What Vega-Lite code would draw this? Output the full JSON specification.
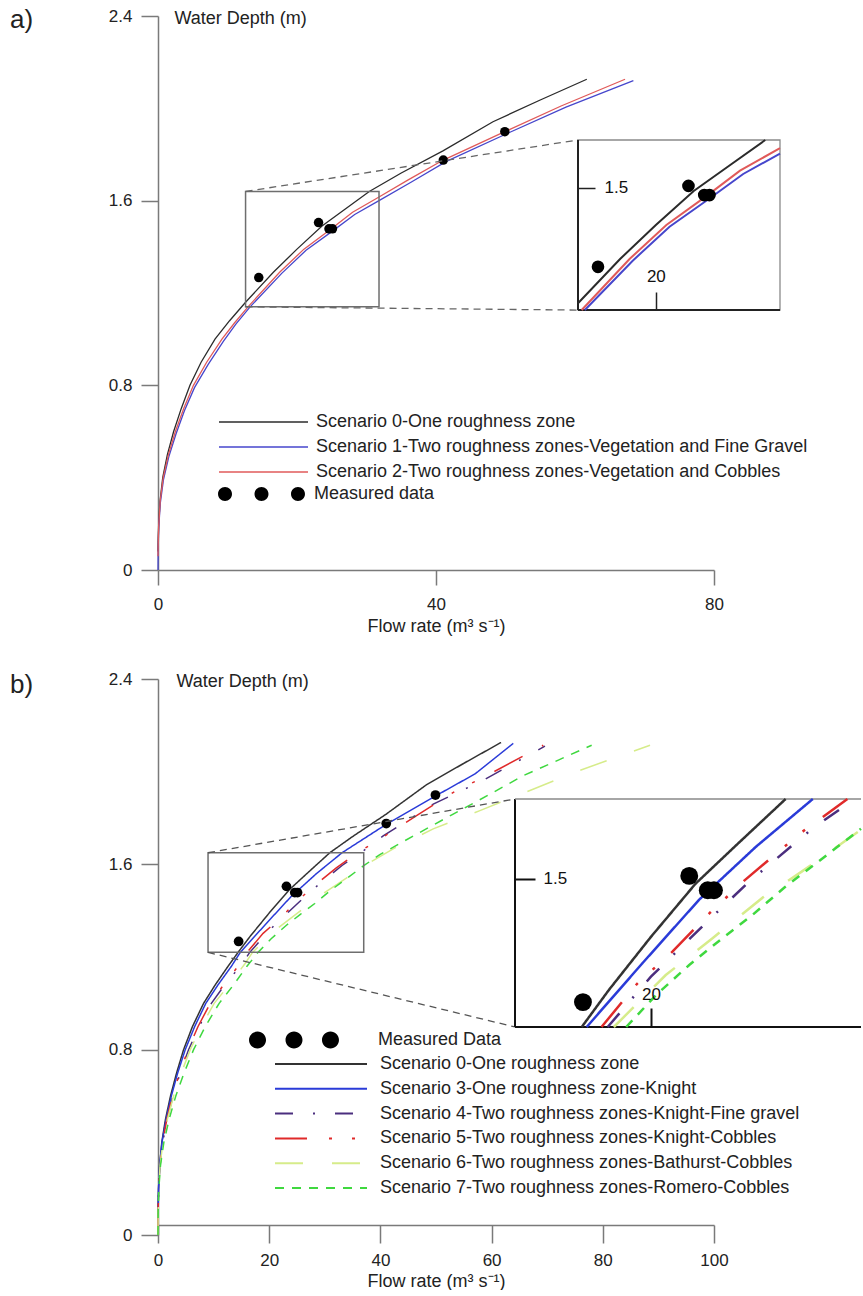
{
 "$schema": "https://vega.github.io/schema/vega-lite/v6.json",
 "padding": {"left": 10, "top": 7, "right": 0, "bottom": 0},
 "background": "white",
 "config": {
  "view": {"stroke": null},
  "font": "Liberation Sans",
  "axis": {"grid": false, "domainColor": "#7a7a7a", "domainWidth": 1.5, "tickColor": "#7a7a7a", "tickWidth": 1.5, "labelColor": "#222222", "labelFont": "Liberation Sans", "labelFontSize": 17, "titleFont": "Liberation Sans", "titleFontSize": 18, "titleFontWeight": "normal", "titleColor": "#222222", "labelFlush": false},
  "legend": {"labelFont": "Liberation Sans", "labelFontSize": 18, "labelColor": "#222222", "labelLimit": 700, "padding": 0, "offset": 0},
  "title": {"font": "Liberation Sans", "fontWeight": "normal", "color": "#222222"}
 },
 "bounds": "flush",
 "spacing": 109,
 "resolve": {"scale": {"color": "independent", "fill": "independent", "strokeDash": "independent"}, "legend": {"color": "independent", "fill": "independent", "strokeDash": "independent"}},
 "datasets": {
  "aLines": [
   {"series": "Scenario 0-One roughness zone", "Q": 0, "h": 0.08},
   {"series": "Scenario 0-One roughness zone", "Q": 0.02, "h": 0.12},
   {"series": "Scenario 0-One roughness zone", "Q": 0.1, "h": 0.2},
   {"series": "Scenario 0-One roughness zone", "Q": 0.3, "h": 0.3},
   {"series": "Scenario 0-One roughness zone", "Q": 0.68, "h": 0.4},
   {"series": "Scenario 0-One roughness zone", "Q": 1.35, "h": 0.5},
   {"series": "Scenario 0-One roughness zone", "Q": 2.25, "h": 0.6},
   {"series": "Scenario 0-One roughness zone", "Q": 3.35, "h": 0.7},
   {"series": "Scenario 0-One roughness zone", "Q": 4.6, "h": 0.8},
   {"series": "Scenario 0-One roughness zone", "Q": 6.2, "h": 0.9},
   {"series": "Scenario 0-One roughness zone", "Q": 8.2, "h": 1.0},
   {"series": "Scenario 0-One roughness zone", "Q": 10.3, "h": 1.08},
   {"series": "Scenario 0-One roughness zone", "Q": 12.6, "h": 1.16},
   {"series": "Scenario 0-One roughness zone", "Q": 16.6, "h": 1.29},
   {"series": "Scenario 0-One roughness zone", "Q": 20, "h": 1.39},
   {"series": "Scenario 0-One roughness zone", "Q": 23.6, "h": 1.49},
   {"series": "Scenario 0-One roughness zone", "Q": 27, "h": 1.565},
   {"series": "Scenario 0-One roughness zone", "Q": 30.4, "h": 1.64},
   {"series": "Scenario 0-One roughness zone", "Q": 35, "h": 1.72},
   {"series": "Scenario 0-One roughness zone", "Q": 41, "h": 1.816},
   {"series": "Scenario 0-One roughness zone", "Q": 48.2, "h": 1.942},
   {"series": "Scenario 0-One roughness zone", "Q": 55, "h": 2.036},
   {"series": "Scenario 0-One roughness zone", "Q": 61.7, "h": 2.126},
   {"series": "Scenario 1-Two roughness zones-Vegetation and Fine Gravel", "Q": 0, "h": 0},
   {"series": "Scenario 1-Two roughness zones-Vegetation and Fine Gravel", "Q": 0.02, "h": 0.08},
   {"series": "Scenario 1-Two roughness zones-Vegetation and Fine Gravel", "Q": 0.1, "h": 0.18},
   {"series": "Scenario 1-Two roughness zones-Vegetation and Fine Gravel", "Q": 0.33, "h": 0.29},
   {"series": "Scenario 1-Two roughness zones-Vegetation and Fine Gravel", "Q": 0.78, "h": 0.39},
   {"series": "Scenario 1-Two roughness zones-Vegetation and Fine Gravel", "Q": 1.55, "h": 0.49},
   {"series": "Scenario 1-Two roughness zones-Vegetation and Fine Gravel", "Q": 2.6, "h": 0.59},
   {"series": "Scenario 1-Two roughness zones-Vegetation and Fine Gravel", "Q": 3.8, "h": 0.69},
   {"series": "Scenario 1-Two roughness zones-Vegetation and Fine Gravel", "Q": 5.25, "h": 0.79},
   {"series": "Scenario 1-Two roughness zones-Vegetation and Fine Gravel", "Q": 7.2, "h": 0.89},
   {"series": "Scenario 1-Two roughness zones-Vegetation and Fine Gravel", "Q": 9.4, "h": 0.99},
   {"series": "Scenario 1-Two roughness zones-Vegetation and Fine Gravel", "Q": 11.2, "h": 1.065},
   {"series": "Scenario 1-Two roughness zones-Vegetation and Fine Gravel", "Q": 13.25, "h": 1.14},
   {"series": "Scenario 1-Two roughness zones-Vegetation and Fine Gravel", "Q": 17.8, "h": 1.285},
   {"series": "Scenario 1-Two roughness zones-Vegetation and Fine Gravel", "Q": 21.3, "h": 1.385},
   {"series": "Scenario 1-Two roughness zones-Vegetation and Fine Gravel", "Q": 25.1, "h": 1.468},
   {"series": "Scenario 1-Two roughness zones-Vegetation and Fine Gravel", "Q": 28.3, "h": 1.54},
   {"series": "Scenario 1-Two roughness zones-Vegetation and Fine Gravel", "Q": 31.8, "h": 1.6},
   {"series": "Scenario 1-Two roughness zones-Vegetation and Fine Gravel", "Q": 36.4, "h": 1.68},
   {"series": "Scenario 1-Two roughness zones-Vegetation and Fine Gravel", "Q": 41.5, "h": 1.77},
   {"series": "Scenario 1-Two roughness zones-Vegetation and Fine Gravel", "Q": 50.4, "h": 1.893},
   {"series": "Scenario 1-Two roughness zones-Vegetation and Fine Gravel", "Q": 58.7, "h": 2.005},
   {"series": "Scenario 1-Two roughness zones-Vegetation and Fine Gravel", "Q": 68.4, "h": 2.12},
   {"series": "Scenario 2-Two roughness zones-Vegetation and Cobbles", "Q": 0, "h": 0.06},
   {"series": "Scenario 2-Two roughness zones-Vegetation and Cobbles", "Q": 0.02, "h": 0.1},
   {"series": "Scenario 2-Two roughness zones-Vegetation and Cobbles", "Q": 0.1, "h": 0.19},
   {"series": "Scenario 2-Two roughness zones-Vegetation and Cobbles", "Q": 0.32, "h": 0.3},
   {"series": "Scenario 2-Two roughness zones-Vegetation and Cobbles", "Q": 0.75, "h": 0.4},
   {"series": "Scenario 2-Two roughness zones-Vegetation and Cobbles", "Q": 1.5, "h": 0.5},
   {"series": "Scenario 2-Two roughness zones-Vegetation and Cobbles", "Q": 2.5, "h": 0.6},
   {"series": "Scenario 2-Two roughness zones-Vegetation and Cobbles", "Q": 3.7, "h": 0.7},
   {"series": "Scenario 2-Two roughness zones-Vegetation and Cobbles", "Q": 5.1, "h": 0.8},
   {"series": "Scenario 2-Two roughness zones-Vegetation and Cobbles", "Q": 7.0, "h": 0.9},
   {"series": "Scenario 2-Two roughness zones-Vegetation and Cobbles", "Q": 9.2, "h": 1.0},
   {"series": "Scenario 2-Two roughness zones-Vegetation and Cobbles", "Q": 11.0, "h": 1.07},
   {"series": "Scenario 2-Two roughness zones-Vegetation and Cobbles", "Q": 12.95, "h": 1.14},
   {"series": "Scenario 2-Two roughness zones-Vegetation and Cobbles", "Q": 17.5, "h": 1.29},
   {"series": "Scenario 2-Two roughness zones-Vegetation and Cobbles", "Q": 21, "h": 1.39},
   {"series": "Scenario 2-Two roughness zones-Vegetation and Cobbles", "Q": 24.8, "h": 1.475},
   {"series": "Scenario 2-Two roughness zones-Vegetation and Cobbles", "Q": 28, "h": 1.55},
   {"series": "Scenario 2-Two roughness zones-Vegetation and Cobbles", "Q": 31.8, "h": 1.616},
   {"series": "Scenario 2-Two roughness zones-Vegetation and Cobbles", "Q": 36, "h": 1.69},
   {"series": "Scenario 2-Two roughness zones-Vegetation and Cobbles", "Q": 41.05, "h": 1.776},
   {"series": "Scenario 2-Two roughness zones-Vegetation and Cobbles", "Q": 49.9, "h": 1.899},
   {"series": "Scenario 2-Two roughness zones-Vegetation and Cobbles", "Q": 58, "h": 2.01},
   {"series": "Scenario 2-Two roughness zones-Vegetation and Cobbles", "Q": 67.2, "h": 2.126}
  ],
  "aPoints": [
   {"kind": "Measured data", "Q": 14.5, "h": 1.267},
   {"kind": "Measured data", "Q": 23.1, "h": 1.505},
   {"kind": "Measured data", "Q": 24.6, "h": 1.478},
   {"kind": "Measured data", "Q": 25.1, "h": 1.478},
   {"kind": "Measured data", "Q": 41.05, "h": 1.776},
   {"kind": "Measured data", "Q": 49.9, "h": 1.899}
  ],
  "bPoints": [
   {"kind": "Measured Data", "Q": 14.5, "h": 1.267},
   {"kind": "Measured Data", "Q": 23.1, "h": 1.505},
   {"kind": "Measured Data", "Q": 24.6, "h": 1.478},
   {"kind": "Measured Data", "Q": 25.1, "h": 1.478},
   {"kind": "Measured Data", "Q": 41.05, "h": 1.776},
   {"kind": "Measured Data", "Q": 49.9, "h": 1.899}
  ],
  "bLines": [
   {"series": "Scenario 0-One roughness zone", "Q": 0, "h": 0.06},
   {"series": "Scenario 0-One roughness zone", "Q": 0.02, "h": 0.12},
   {"series": "Scenario 0-One roughness zone", "Q": 0.1, "h": 0.2},
   {"series": "Scenario 0-One roughness zone", "Q": 0.3, "h": 0.3},
   {"series": "Scenario 0-One roughness zone", "Q": 0.68, "h": 0.4},
   {"series": "Scenario 0-One roughness zone", "Q": 1.35, "h": 0.5},
   {"series": "Scenario 0-One roughness zone", "Q": 2.25, "h": 0.6},
   {"series": "Scenario 0-One roughness zone", "Q": 3.35, "h": 0.7},
   {"series": "Scenario 0-One roughness zone", "Q": 4.6, "h": 0.8},
   {"series": "Scenario 0-One roughness zone", "Q": 6.2, "h": 0.9},
   {"series": "Scenario 0-One roughness zone", "Q": 8.2, "h": 1.0},
   {"series": "Scenario 0-One roughness zone", "Q": 10.3, "h": 1.08},
   {"series": "Scenario 0-One roughness zone", "Q": 12.6, "h": 1.16},
   {"series": "Scenario 0-One roughness zone", "Q": 14.4, "h": 1.22},
   {"series": "Scenario 0-One roughness zone", "Q": 16.6, "h": 1.29},
   {"series": "Scenario 0-One roughness zone", "Q": 20, "h": 1.39},
   {"series": "Scenario 0-One roughness zone", "Q": 23.6, "h": 1.49},
   {"series": "Scenario 0-One roughness zone", "Q": 27, "h": 1.565},
   {"series": "Scenario 0-One roughness zone", "Q": 30.9, "h": 1.65},
   {"series": "Scenario 0-One roughness zone", "Q": 35, "h": 1.72},
   {"series": "Scenario 0-One roughness zone", "Q": 41, "h": 1.816},
   {"series": "Scenario 0-One roughness zone", "Q": 48.2, "h": 1.942},
   {"series": "Scenario 0-One roughness zone", "Q": 55, "h": 2.036},
   {"series": "Scenario 0-One roughness zone", "Q": 61.7, "h": 2.126},
   {"series": "Scenario 3-One roughness zone-Knight", "Q": 0, "h": 0},
   {"series": "Scenario 3-One roughness zone-Knight", "Q": 0.02, "h": 0.1},
   {"series": "Scenario 3-One roughness zone-Knight", "Q": 0.1, "h": 0.2},
   {"series": "Scenario 3-One roughness zone-Knight", "Q": 0.3, "h": 0.3},
   {"series": "Scenario 3-One roughness zone-Knight", "Q": 0.72, "h": 0.4},
   {"series": "Scenario 3-One roughness zone-Knight", "Q": 1.45, "h": 0.5},
   {"series": "Scenario 3-One roughness zone-Knight", "Q": 2.4, "h": 0.6},
   {"series": "Scenario 3-One roughness zone-Knight", "Q": 3.55, "h": 0.7},
   {"series": "Scenario 3-One roughness zone-Knight", "Q": 4.9, "h": 0.8},
   {"series": "Scenario 3-One roughness zone-Knight", "Q": 6.6, "h": 0.9},
   {"series": "Scenario 3-One roughness zone-Knight", "Q": 8.6, "h": 1.0},
   {"series": "Scenario 3-One roughness zone-Knight", "Q": 10.8, "h": 1.08},
   {"series": "Scenario 3-One roughness zone-Knight", "Q": 13.2, "h": 1.16},
   {"series": "Scenario 3-One roughness zone-Knight", "Q": 14.8, "h": 1.22},
   {"series": "Scenario 3-One roughness zone-Knight", "Q": 19.3, "h": 1.34},
   {"series": "Scenario 3-One roughness zone-Knight", "Q": 23.9, "h": 1.46},
   {"series": "Scenario 3-One roughness zone-Knight", "Q": 28.5, "h": 1.56},
   {"series": "Scenario 3-One roughness zone-Knight", "Q": 33.1, "h": 1.65},
   {"series": "Scenario 3-One roughness zone-Knight", "Q": 41.0, "h": 1.772},
   {"series": "Scenario 3-One roughness zone-Knight", "Q": 49.9, "h": 1.895},
   {"series": "Scenario 3-One roughness zone-Knight", "Q": 57, "h": 1.99},
   {"series": "Scenario 3-One roughness zone-Knight", "Q": 63.9, "h": 2.122},
   {"series": "Scenario 4-Two roughness zones-Knight-Fine gravel", "Q": 0, "h": 0},
   {"series": "Scenario 4-Two roughness zones-Knight-Fine gravel", "Q": 0.02, "h": 0.1},
   {"series": "Scenario 4-Two roughness zones-Knight-Fine gravel", "Q": 0.12, "h": 0.2},
   {"series": "Scenario 4-Two roughness zones-Knight-Fine gravel", "Q": 0.36, "h": 0.3},
   {"series": "Scenario 4-Two roughness zones-Knight-Fine gravel", "Q": 0.85, "h": 0.4},
   {"series": "Scenario 4-Two roughness zones-Knight-Fine gravel", "Q": 1.65, "h": 0.5},
   {"series": "Scenario 4-Two roughness zones-Knight-Fine gravel", "Q": 2.7, "h": 0.6},
   {"series": "Scenario 4-Two roughness zones-Knight-Fine gravel", "Q": 4.0, "h": 0.7},
   {"series": "Scenario 4-Two roughness zones-Knight-Fine gravel", "Q": 5.5, "h": 0.8},
   {"series": "Scenario 4-Two roughness zones-Knight-Fine gravel", "Q": 7.4, "h": 0.9},
   {"series": "Scenario 4-Two roughness zones-Knight-Fine gravel", "Q": 9.6, "h": 1.0},
   {"series": "Scenario 4-Two roughness zones-Knight-Fine gravel", "Q": 12.0, "h": 1.08},
   {"series": "Scenario 4-Two roughness zones-Knight-Fine gravel", "Q": 14.8, "h": 1.16},
   {"series": "Scenario 4-Two roughness zones-Knight-Fine gravel", "Q": 16.5, "h": 1.22},
   {"series": "Scenario 4-Two roughness zones-Knight-Fine gravel", "Q": 20.0, "h": 1.315},
   {"series": "Scenario 4-Two roughness zones-Knight-Fine gravel", "Q": 25.1, "h": 1.431},
   {"series": "Scenario 4-Two roughness zones-Knight-Fine gravel", "Q": 27.8, "h": 1.491},
   {"series": "Scenario 4-Two roughness zones-Knight-Fine gravel", "Q": 33.1, "h": 1.595},
   {"series": "Scenario 4-Two roughness zones-Knight-Fine gravel", "Q": 36.5, "h": 1.65},
   {"series": "Scenario 4-Two roughness zones-Knight-Fine gravel", "Q": 40.5, "h": 1.723},
   {"series": "Scenario 4-Two roughness zones-Knight-Fine gravel", "Q": 49.5, "h": 1.86},
   {"series": "Scenario 4-Two roughness zones-Knight-Fine gravel", "Q": 58.5, "h": 1.963},
   {"series": "Scenario 4-Two roughness zones-Knight-Fine gravel", "Q": 69.6, "h": 2.11},
   {"series": "Scenario 5-Two roughness zones-Knight-Cobbles", "Q": 0, "h": 0},
   {"series": "Scenario 5-Two roughness zones-Knight-Cobbles", "Q": 0.02, "h": 0.1},
   {"series": "Scenario 5-Two roughness zones-Knight-Cobbles", "Q": 0.12, "h": 0.2},
   {"series": "Scenario 5-Two roughness zones-Knight-Cobbles", "Q": 0.35, "h": 0.3},
   {"series": "Scenario 5-Two roughness zones-Knight-Cobbles", "Q": 0.82, "h": 0.4},
   {"series": "Scenario 5-Two roughness zones-Knight-Cobbles", "Q": 1.6, "h": 0.5},
   {"series": "Scenario 5-Two roughness zones-Knight-Cobbles", "Q": 2.6, "h": 0.6},
   {"series": "Scenario 5-Two roughness zones-Knight-Cobbles", "Q": 3.9, "h": 0.7},
   {"series": "Scenario 5-Two roughness zones-Knight-Cobbles", "Q": 5.4, "h": 0.8},
   {"series": "Scenario 5-Two roughness zones-Knight-Cobbles", "Q": 7.2, "h": 0.9},
   {"series": "Scenario 5-Two roughness zones-Knight-Cobbles", "Q": 9.4, "h": 1.0},
   {"series": "Scenario 5-Two roughness zones-Knight-Cobbles", "Q": 11.8, "h": 1.08},
   {"series": "Scenario 5-Two roughness zones-Knight-Cobbles", "Q": 14.4, "h": 1.16},
   {"series": "Scenario 5-Two roughness zones-Knight-Cobbles", "Q": 16.0, "h": 1.22},
   {"series": "Scenario 5-Two roughness zones-Knight-Cobbles", "Q": 18.9, "h": 1.302},
   {"series": "Scenario 5-Two roughness zones-Knight-Cobbles", "Q": 21.74, "h": 1.362},
   {"series": "Scenario 5-Two roughness zones-Knight-Cobbles", "Q": 24.8, "h": 1.436},
   {"series": "Scenario 5-Two roughness zones-Knight-Cobbles", "Q": 27.6, "h": 1.497},
   {"series": "Scenario 5-Two roughness zones-Knight-Cobbles", "Q": 32.07, "h": 1.585},
   {"series": "Scenario 5-Two roughness zones-Knight-Cobbles", "Q": 35.9, "h": 1.65},
   {"series": "Scenario 5-Two roughness zones-Knight-Cobbles", "Q": 39.3, "h": 1.7},
   {"series": "Scenario 5-Two roughness zones-Knight-Cobbles", "Q": 46.5, "h": 1.81},
   {"series": "Scenario 5-Two roughness zones-Knight-Cobbles", "Q": 53.7, "h": 1.919},
   {"series": "Scenario 5-Two roughness zones-Knight-Cobbles", "Q": 58.5, "h": 1.975},
   {"series": "Scenario 5-Two roughness zones-Knight-Cobbles", "Q": 69.3, "h": 2.114},
   {"series": "Scenario 6-Two roughness zones-Bathurst-Cobbles", "Q": 0, "h": 0},
   {"series": "Scenario 6-Two roughness zones-Bathurst-Cobbles", "Q": 0.02, "h": 0.1},
   {"series": "Scenario 6-Two roughness zones-Bathurst-Cobbles", "Q": 0.12, "h": 0.2},
   {"series": "Scenario 6-Two roughness zones-Bathurst-Cobbles", "Q": 0.37, "h": 0.3},
   {"series": "Scenario 6-Two roughness zones-Bathurst-Cobbles", "Q": 0.88, "h": 0.4},
   {"series": "Scenario 6-Two roughness zones-Bathurst-Cobbles", "Q": 1.7, "h": 0.5},
   {"series": "Scenario 6-Two roughness zones-Bathurst-Cobbles", "Q": 2.8, "h": 0.6},
   {"series": "Scenario 6-Two roughness zones-Bathurst-Cobbles", "Q": 4.2, "h": 0.7},
   {"series": "Scenario 6-Two roughness zones-Bathurst-Cobbles", "Q": 5.8, "h": 0.8},
   {"series": "Scenario 6-Two roughness zones-Bathurst-Cobbles", "Q": 7.8, "h": 0.9},
   {"series": "Scenario 6-Two roughness zones-Bathurst-Cobbles", "Q": 10.1, "h": 1.0},
   {"series": "Scenario 6-Two roughness zones-Bathurst-Cobbles", "Q": 12.8, "h": 1.08},
   {"series": "Scenario 6-Two roughness zones-Bathurst-Cobbles", "Q": 15.6, "h": 1.17},
   {"series": "Scenario 6-Two roughness zones-Bathurst-Cobbles", "Q": 17.0, "h": 1.22},
   {"series": "Scenario 6-Two roughness zones-Bathurst-Cobbles", "Q": 21.2, "h": 1.318},
   {"series": "Scenario 6-Two roughness zones-Bathurst-Cobbles", "Q": 24.96, "h": 1.387},
   {"series": "Scenario 6-Two roughness zones-Bathurst-Cobbles", "Q": 29.1, "h": 1.465},
   {"series": "Scenario 6-Two roughness zones-Bathurst-Cobbles", "Q": 32.2, "h": 1.513},
   {"series": "Scenario 6-Two roughness zones-Bathurst-Cobbles", "Q": 37, "h": 1.592},
   {"series": "Scenario 6-Two roughness zones-Bathurst-Cobbles", "Q": 42.3, "h": 1.667},
   {"series": "Scenario 6-Two roughness zones-Bathurst-Cobbles", "Q": 49.5, "h": 1.753},
   {"series": "Scenario 6-Two roughness zones-Bathurst-Cobbles", "Q": 57.9, "h": 1.832},
   {"series": "Scenario 6-Two roughness zones-Bathurst-Cobbles", "Q": 66.9, "h": 1.919},
   {"series": "Scenario 6-Two roughness zones-Bathurst-Cobbles", "Q": 75.9, "h": 2.006},
   {"series": "Scenario 6-Two roughness zones-Bathurst-Cobbles", "Q": 88.5, "h": 2.114},
   {"series": "Scenario 7-Two roughness zones-Romero-Cobbles", "Q": 0, "h": 0},
   {"series": "Scenario 7-Two roughness zones-Romero-Cobbles", "Q": 0.03, "h": 0.1},
   {"series": "Scenario 7-Two roughness zones-Romero-Cobbles", "Q": 0.15, "h": 0.2},
   {"series": "Scenario 7-Two roughness zones-Romero-Cobbles", "Q": 0.45, "h": 0.3},
   {"series": "Scenario 7-Two roughness zones-Romero-Cobbles", "Q": 1.05, "h": 0.4},
   {"series": "Scenario 7-Two roughness zones-Romero-Cobbles", "Q": 2.0, "h": 0.5},
   {"series": "Scenario 7-Two roughness zones-Romero-Cobbles", "Q": 3.2, "h": 0.6},
   {"series": "Scenario 7-Two roughness zones-Romero-Cobbles", "Q": 4.7, "h": 0.7},
   {"series": "Scenario 7-Two roughness zones-Romero-Cobbles", "Q": 6.4, "h": 0.8},
   {"series": "Scenario 7-Two roughness zones-Romero-Cobbles", "Q": 8.5, "h": 0.9},
   {"series": "Scenario 7-Two roughness zones-Romero-Cobbles", "Q": 11.0, "h": 1.0},
   {"series": "Scenario 7-Two roughness zones-Romero-Cobbles", "Q": 13.6, "h": 1.08},
   {"series": "Scenario 7-Two roughness zones-Romero-Cobbles", "Q": 16.0, "h": 1.16},
   {"series": "Scenario 7-Two roughness zones-Romero-Cobbles", "Q": 18.0, "h": 1.22},
   {"series": "Scenario 7-Two roughness zones-Romero-Cobbles", "Q": 20.4, "h": 1.28},
   {"series": "Scenario 7-Two roughness zones-Romero-Cobbles", "Q": 23.1, "h": 1.337},
   {"series": "Scenario 7-Two roughness zones-Romero-Cobbles", "Q": 25.6, "h": 1.384},
   {"series": "Scenario 7-Two roughness zones-Romero-Cobbles", "Q": 28.2, "h": 1.431},
   {"series": "Scenario 7-Two roughness zones-Romero-Cobbles", "Q": 30.85, "h": 1.484},
   {"series": "Scenario 7-Two roughness zones-Romero-Cobbles", "Q": 33.55, "h": 1.532},
   {"series": "Scenario 7-Two roughness zones-Romero-Cobbles", "Q": 37, "h": 1.594},
   {"series": "Scenario 7-Two roughness zones-Romero-Cobbles", "Q": 39.9, "h": 1.642},
   {"series": "Scenario 7-Two roughness zones-Romero-Cobbles", "Q": 46.5, "h": 1.73},
   {"series": "Scenario 7-Two roughness zones-Romero-Cobbles", "Q": 53.1, "h": 1.817},
   {"series": "Scenario 7-Two roughness zones-Romero-Cobbles", "Q": 59.5, "h": 1.9},
   {"series": "Scenario 7-Two roughness zones-Romero-Cobbles", "Q": 65.7, "h": 1.983},
   {"series": "Scenario 7-Two roughness zones-Romero-Cobbles", "Q": 72, "h": 2.05},
   {"series": "Scenario 7-Two roughness zones-Romero-Cobbles", "Q": 78.0, "h": 2.114}
  ]
 },
 "vconcat": [
  {
   "width": 556,
   "height": 554,
   "title": {"text": "a)", "orient": "left", "anchor": "end", "frame": "group", "angle": 0, "align": "right", "baseline": "middle", "offset": 52, "dy": 4, "fontSize": 26},
   "resolve": {"scale": {"x": "independent", "y": "independent"}},
   "layer": [
    {
     "layer": [
      {
       "data": {"name": "aLines"},
       "mark": {"type": "line", "strokeWidth": 1.3},
       "encoding": {
        "x": {"field": "Q", "type": "quantitative", "scale": {"domain": [0, 80], "nice": false, "zero": false},
              "axis": {"orient": "bottom", "values": [0, 40, 80], "tickSize": 15, "labelPadding": 11, "titlePadding": 5, "title": "Flow rate (m³ s⁻¹)"}},
        "y": {"field": "h", "type": "quantitative", "scale": {"domain": [0, 2.4], "nice": false, "zero": false},
              "axis": {"orient": "left", "values": [0, 0.8, 1.6, 2.4], "format": "~g", "tickSize": 17, "labelPadding": 9, "title": "Water Depth (m)", "titleAngle": 0, "titleAlign": "left", "titleBaseline": "middle", "titleX": 16, "titleY": 2}},
        "color": {"field": "series", "type": "nominal",
                  "scale": {"domain": ["Scenario 0-One roughness zone", "Scenario 1-Two roughness zones-Vegetation and Fine Gravel", "Scenario 2-Two roughness zones-Vegetation and Cobbles"], "range": ["#2b2b2b", "#4646cc", "#e05a5a"]},
                  "legend": {"title": null, "orient": "none", "legendX": 60, "legendY": 395, "symbolType": "stroke", "symbolSize": 7921, "symbolStrokeWidth": 1.6, "labelOffset": 7, "clipHeight": 22, "rowPadding": 3}}
       }
      },
      {
       "data": {"name": "aPoints"},
       "mark": {"type": "circle", "size": 90, "opacity": 1},
       "encoding": {
        "x": {"field": "Q", "type": "quantitative"},
        "y": {"field": "h", "type": "quantitative"},
        "fill": {"field": "kind", "type": "nominal", "scale": {"range": ["#000000"]},
                 "legend": {"title": null, "orient": "none", "legendX": 59, "legendY": 467, "symbolType": "M-0.977,0A0.157,0.157,0,1,0,-0.663,0A0.157,0.157,0,1,0,-0.977,0Z M-0.157,0A0.157,0.157,0,1,0,0.157,0A0.157,0.157,0,1,0,-0.157,0Z M0.663,0A0.157,0.157,0,1,0,0.977,0A0.157,0.157,0,1,0,0.663,0Z", "symbolSize": 7921, "symbolStrokeWidth": 0, "symbolOpacity": 1, "labelOffset": 8, "clipHeight": 22}}
       }
      },
      {
       "data": {"values": [{}]},
       "mark": {"type": "rect", "fill": "white", "fillOpacity": 0, "stroke": "#6e6e6e", "strokeWidth": 1.5},
       "encoding": {"x": {"datum": 12.6, "type": "quantitative"}, "x2": {"datum": 31.8}, "y": {"datum": 1.14, "type": "quantitative"}, "y2": {"datum": 1.64}}
      },
      {
       "data": {"values": [{}]},
       "mark": {"type": "rule", "stroke": "#666666", "strokeWidth": 1.3, "strokeDash": [7, 5]},
       "encoding": {"x": {"datum": 12.6, "type": "quantitative"}, "y": {"datum": 1.64, "type": "quantitative"}, "x2": {"datum": 60.43}, "y2": {"datum": 1.863}}
      },
      {
       "data": {"values": [{}]},
       "mark": {"type": "rule", "stroke": "#666666", "strokeWidth": 1.3, "strokeDash": [7, 5]},
       "encoding": {"x": {"datum": 12.6, "type": "quantitative"}, "y": {"datum": 1.14, "type": "quantitative"}, "x2": {"datum": 60.43}, "y2": {"datum": 1.126}}
      }
     ]
    },
    {
     "layer": [
      {
       "data": {"values": [{}]},
       "mark": {"type": "rect", "fill": "white", "stroke": "#8a8a8a", "strokeWidth": 1.3},
       "encoding": {
        "x": {"datum": 12.6, "type": "quantitative", "scale": {"domain": [12.6, 31.8], "range": [420, 622], "nice": false, "zero": false},
              "axis": {"orient": "top", "offset": -294, "values": [20], "tickSize": 18, "labelPadding": 7, "domain": false, "title": null, "tickColor": "#222222", "labelColor": "#111111", "zindex": 2}},
        "x2": {"datum": 31.8},
        "y": {"datum": 1.14, "type": "quantitative", "scale": {"domain": [1.14, 1.64], "range": [294, 124], "nice": false, "zero": false},
              "axis": {"orient": "right", "offset": -136, "values": [1.5], "format": ".1f", "tickSize": 17, "labelPadding": 9, "domain": false, "title": null, "tickColor": "#222222", "labelColor": "#111111", "zindex": 2}},
        "y2": {"datum": 1.64}
       }
      },
      {
       "data": {"values": [{}]},
       "mark": {"type": "rule", "stroke": "#222222", "strokeWidth": 2},
       "encoding": {"x": {"datum": 12.6, "type": "quantitative"}, "y": {"datum": 1.14, "type": "quantitative"}, "x2": {"datum": 31.8}}
      },
      {
       "data": {"values": [{}]},
       "mark": {"type": "rule", "stroke": "#222222", "strokeWidth": 2},
       "encoding": {"x": {"datum": 12.6, "type": "quantitative"}, "y": {"datum": 1.14, "type": "quantitative"}, "y2": {"datum": 1.64}}
      },
      {
       "data": {"name": "aLines"},
       "transform": [{"filter": "datum.Q >= 12.6 && datum.Q <= 31.8 && datum.h >= 1.14 && datum.h <= 1.64"}],
       "mark": {"type": "line", "strokeWidth": 2},
       "encoding": {
        "x": {"field": "Q", "type": "quantitative"},
        "y": {"field": "h", "type": "quantitative"},
        "color": {"field": "series", "type": "nominal",
                  "scale": {"domain": ["Scenario 0-One roughness zone", "Scenario 1-Two roughness zones-Vegetation and Fine Gravel", "Scenario 2-Two roughness zones-Vegetation and Cobbles"], "range": ["#2b2b2b", "#4646cc", "#e05a5a"]},
                  "legend": null}
       }
      },
      {
       "data": {"name": "aPoints"},
       "transform": [{"filter": "datum.Q >= 12.6 && datum.Q <= 31.8 && datum.h >= 1.14 && datum.h <= 1.64"}],
       "mark": {"type": "circle", "size": 160, "opacity": 1},
       "encoding": {
        "x": {"field": "Q", "type": "quantitative"},
        "y": {"field": "h", "type": "quantitative"},
        "fill": {"field": "kind", "type": "nominal", "scale": {"range": ["#000000"]}, "legend": null}
       }
      }
     ]
    }
   ]
  },
  {
   "width": 556,
   "height": 556,
   "title": {"text": "b)", "orient": "left", "anchor": "end", "frame": "group", "angle": 0, "align": "right", "baseline": "middle", "offset": 52, "dy": 6, "fontSize": 26},
   "resolve": {"scale": {"x": "independent", "y": "independent"}},
   "layer": [
    {
     "layer": [
      {
       "data": {"name": "bLines"},
       "mark": {"type": "line", "strokeWidth": 1.5},
       "encoding": {
        "x": {"field": "Q", "type": "quantitative", "scale": {"domain": [0, 100], "nice": false, "zero": false},
              "axis": {"orient": "bottom", "offset": -10, "values": [0, 20, 40, 60, 80, 100], "tickSize": 18, "labelPadding": 9, "titlePadding": 4, "title": "Flow rate (m³ s⁻¹)"}},
        "y": {"field": "h", "type": "quantitative", "scale": {"domain": [0, 2.4], "nice": false, "zero": false},
              "axis": {"orient": "left", "values": [0, 0.8, 1.6, 2.4], "format": "~g", "tickSize": 17, "labelPadding": 9, "title": "Water Depth (m)", "titleAngle": 0, "titleAlign": "left", "titleBaseline": "middle", "titleX": 18, "titleY": 2}},
        "color": {"field": "series", "type": "nominal",
                  "scale": {"domain": ["Scenario 0-One roughness zone", "Scenario 3-One roughness zone-Knight", "Scenario 4-Two roughness zones-Knight-Fine gravel", "Scenario 5-Two roughness zones-Knight-Cobbles", "Scenario 6-Two roughness zones-Bathurst-Cobbles", "Scenario 7-Two roughness zones-Romero-Cobbles"], "range": ["#333333", "#2a3bd8", "#4b2e7e", "#e02a2a", "#d6ec8a", "#3fd83f"]},
                  "legend": {"title": null, "orient": "none", "legendX": 116, "legendY": 374, "symbolType": "stroke", "symbolSize": 8464, "symbolStrokeWidth": 2, "labelOffset": 12, "clipHeight": 22, "rowPadding": 2.8}},
        "strokeDash": {"field": "series", "type": "nominal",
                  "scale": {"domain": ["Scenario 0-One roughness zone", "Scenario 3-One roughness zone-Knight", "Scenario 4-Two roughness zones-Knight-Fine gravel", "Scenario 5-Two roughness zones-Knight-Cobbles", "Scenario 6-Two roughness zones-Bathurst-Cobbles", "Scenario 7-Two roughness zones-Romero-Cobbles"], "range": [[1, 0], [1, 0], [18, 20, 2, 20], [32, 22, 3, 20, 3, 22], [28, 29], [9, 8]]},
                  "legend": {"title": null, "orient": "none", "legendX": 116, "legendY": 374, "symbolType": "stroke", "symbolSize": 8464, "symbolStrokeWidth": 2, "labelOffset": 12, "clipHeight": 22, "rowPadding": 2.8}}
       }
      },
      {
       "data": {"name": "bPoints"},
       "mark": {"type": "circle", "size": 95, "opacity": 1},
       "encoding": {
        "x": {"field": "Q", "type": "quantitative"},
        "y": {"field": "h", "type": "quantitative"},
        "fill": {"field": "kind", "type": "nominal", "scale": {"range": ["#000000"]},
                 "legend": {"title": null, "orient": "none", "legendX": 88, "legendY": 350, "symbolType": "M-0.937,0A0.177,0.177,0,1,0,-0.583,0A0.177,0.177,0,1,0,-0.937,0Z M-0.177,0A0.177,0.177,0,1,0,0.177,0A0.177,0.177,0,1,0,-0.177,0Z M0.583,0A0.177,0.177,0,1,0,0.937,0A0.177,0.177,0,1,0,0.583,0Z", "symbolSize": 9216, "symbolStrokeWidth": 0, "symbolOpacity": 1, "labelOffset": 36, "clipHeight": 22}}
       }
      },
      {
       "data": {"values": [{}]},
       "mark": {"type": "rect", "fill": "white", "fillOpacity": 0, "stroke": "#6e6e6e", "strokeWidth": 1.5},
       "encoding": {"x": {"datum": 9, "type": "quantitative"}, "x2": {"datum": 37}, "y": {"datum": 1.22, "type": "quantitative"}, "y2": {"datum": 1.65}}
      },
      {
       "data": {"values": [{}]},
       "mark": {"type": "rule", "stroke": "#555555", "strokeWidth": 1.3, "strokeDash": [7, 5]},
       "encoding": {"x": {"datum": 9, "type": "quantitative"}, "y": {"datum": 1.65, "type": "quantitative"}, "x2": {"datum": 64.2}, "y2": {"datum": 1.882}}
      },
      {
       "data": {"values": [{}]},
       "mark": {"type": "rule", "stroke": "#555555", "strokeWidth": 1.3, "strokeDash": [7, 5]},
       "encoding": {"x": {"datum": 9, "type": "quantitative"}, "y": {"datum": 1.22, "type": "quantitative"}, "x2": {"datum": 64.2}, "y2": {"datum": 0.898}}
      }
     ]
    },
    {
     "layer": [
      {
       "data": {"values": [{}]},
       "mark": {"type": "rect", "fill": "white", "strokeWidth": 0},
       "encoding": {
        "x": {"datum": 9, "type": "quantitative", "scale": {"domain": [9, 37], "range": [357, 703], "nice": false, "zero": false},
              "axis": {"orient": "top", "offset": -348, "values": [20], "tickSize": 19, "labelPadding": 5, "domain": false, "title": null, "tickColor": "#111111", "tickWidth": 2, "labelColor": "#111111", "zindex": 2}},
        "x2": {"datum": 37},
        "y": {"datum": 1.22, "type": "quantitative", "scale": {"domain": [1.22, 1.65], "range": [348, 120], "nice": false, "zero": false},
              "axis": {"orient": "right", "offset": -199, "values": [1.5], "format": ".1f", "tickSize": 20, "labelPadding": 8, "domain": false, "title": null, "tickColor": "#111111", "tickWidth": 2, "labelColor": "#111111", "zindex": 2}},
        "y2": {"datum": 1.65}
       }
      },
      {
       "data": {"values": [{}]},
       "mark": {"type": "rule", "stroke": "#111111", "strokeWidth": 2},
       "encoding": {"x": {"datum": 9, "type": "quantitative"}, "y": {"datum": 1.22, "type": "quantitative"}, "x2": {"datum": 37}}
      },
      {
       "data": {"values": [{}]},
       "mark": {"type": "rule", "stroke": "#111111", "strokeWidth": 2},
       "encoding": {"x": {"datum": 9, "type": "quantitative"}, "y": {"datum": 1.22, "type": "quantitative"}, "y2": {"datum": 1.65}}
      },
      {
       "data": {"values": [{}]},
       "mark": {"type": "rule", "stroke": "#888888", "strokeWidth": 1.5},
       "encoding": {"x": {"datum": 9, "type": "quantitative"}, "y": {"datum": 1.65, "type": "quantitative"}, "x2": {"datum": 37}}
      },
      {
       "data": {"name": "bLines"},
       "transform": [{"filter": "datum.Q >= 9 && datum.Q <= 37 && datum.h >= 1.22 && datum.h <= 1.65"}],
       "mark": {"type": "line", "strokeWidth": 2.5},
       "encoding": {
        "x": {"field": "Q", "type": "quantitative"},
        "y": {"field": "h", "type": "quantitative"},
        "color": {"field": "series", "type": "nominal",
                  "scale": {"domain": ["Scenario 0-One roughness zone", "Scenario 3-One roughness zone-Knight", "Scenario 4-Two roughness zones-Knight-Fine gravel", "Scenario 5-Two roughness zones-Knight-Cobbles", "Scenario 6-Two roughness zones-Bathurst-Cobbles", "Scenario 7-Two roughness zones-Romero-Cobbles"], "range": ["#333333", "#2a3bd8", "#4b2e7e", "#e02a2a", "#d6ec8a", "#3fd83f"]},
                  "legend": null},
        "strokeDash": {"field": "series", "type": "nominal",
                  "scale": {"domain": ["Scenario 0-One roughness zone", "Scenario 3-One roughness zone-Knight", "Scenario 4-Two roughness zones-Knight-Fine gravel", "Scenario 5-Two roughness zones-Knight-Cobbles", "Scenario 6-Two roughness zones-Bathurst-Cobbles", "Scenario 7-Two roughness zones-Romero-Cobbles"], "range": [[1, 0], [1, 0], [18, 20, 2, 20], [32, 22, 3, 20, 3, 22], [28, 29], [9, 8]]},
                  "legend": null}
       }
      },
      {
       "data": {"name": "bPoints"},
       "transform": [{"filter": "datum.Q >= 9 && datum.Q <= 37 && datum.h >= 1.22 && datum.h <= 1.65"}],
       "mark": {"type": "circle", "size": 320, "opacity": 1},
       "encoding": {
        "x": {"field": "Q", "type": "quantitative"},
        "y": {"field": "h", "type": "quantitative"},
        "fill": {"field": "kind", "type": "nominal", "scale": {"range": ["#000000"]}, "legend": null}
       }
      }
     ]
    }
   ]
  }
 ]
}
